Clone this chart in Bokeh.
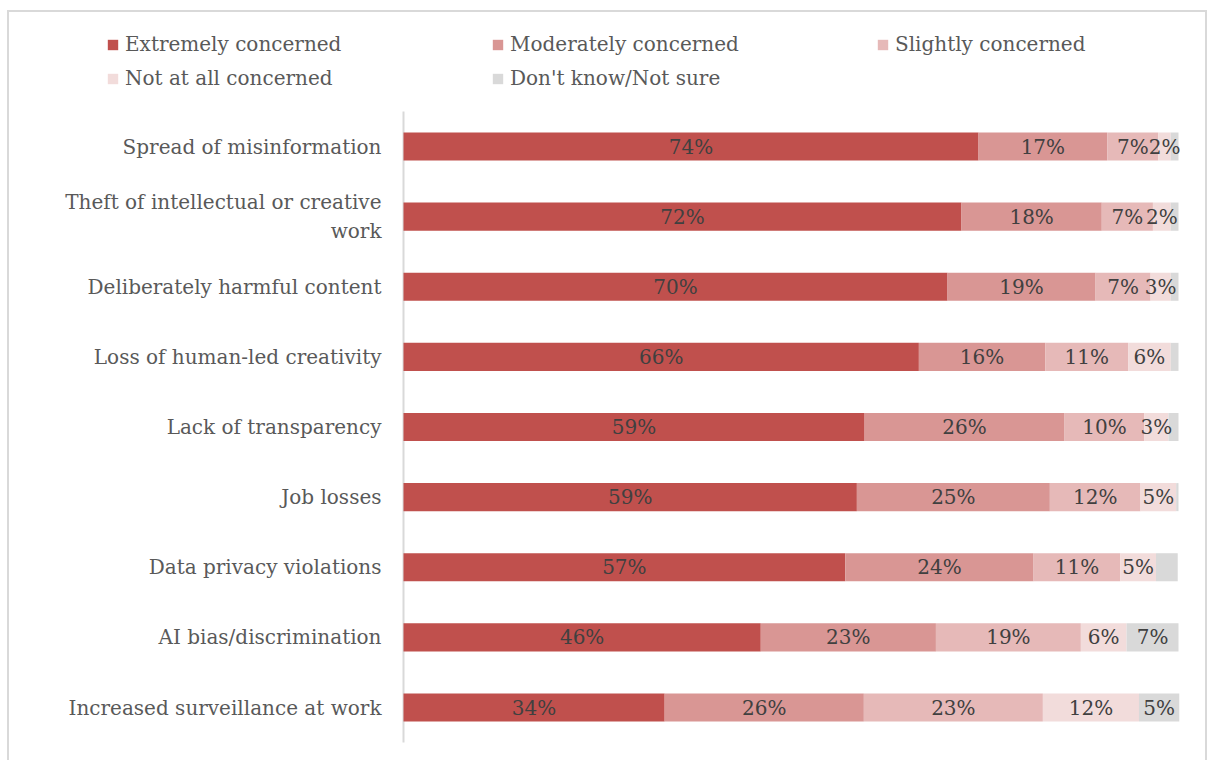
import numpy as np
from bokeh.plotting import figure
from bokeh.layouts import column
from bokeh.models import ColumnDataSource, Range1d, Legend, LegendItem
from bokeh.core.properties import value
from bokeh.embed import file_html
from bokeh.resources import INLINE

# ---------------- data (top to bottom) ----------------
categories = [
    "Spread of misinformation",
    "Theft of intellectual or creative\nwork",
    "Deliberately harmful content",
    "Loss of human-led creativity",
    "Lack of transparency",
    "Job losses",
    "Data privacy violations",
    "AI bias/discrimination",
    "Increased surveillance at work",
]
series_names = ["Extremely concerned", "Moderately concerned", "Slightly concerned",
                "Not at all concerned", "Don't know/Not sure"]

extremely = [74.2, 72.0, 70.2, 66.5, 59.5, 58.5, 57.0, 46.1, 33.7]
moderately = [16.6, 18.1, 19.1, 16.3, 25.8, 24.9, 24.3, 22.6, 25.7]
slightly = [6.6, 6.6, 7.1, 10.7, 10.3, 11.7, 11.2, 18.7, 23.1]
not_at_all = [1.6, 2.3, 2.6, 5.5, 3.1, 4.6, 4.6, 5.9, 12.4]
dont_know = [1.0, 1.0, 1.0, 1.0, 1.3, 0.3, 2.8, 6.7, 5.2]

extremely_labels = ["74%", "72%", "70%", "66%", "59%", "59%", "57%", "46%", "34%"]
moderately_labels = ["17%", "18%", "19%", "16%", "26%", "25%", "24%", "23%", "26%"]
slightly_labels = ["7%", "7%", "7%", "11%", "10%", "12%", "11%", "19%", "23%"]
not_at_all_labels = ["2%", "2%", "3%", "6%", "3%", "5%", "5%", "6%", "12%"]
dont_know_labels = ["", "", "", "", "", "", "", "7%", "5%"]

colors = ["#C0504D", "#D99694", "#E6B9B8", "#F2DCDB", "#D9D9D9"]

series = [extremely, moderately, slightly, not_at_all, dont_know]
labels = [extremely_labels, moderately_labels, slightly_labels, not_at_all_labels, dont_know_labels]

# ---------------- layout (pixels) ----------------
OX, OY = 9, 12             # content origin on the page (inside the border)
CW, CH = 1196, 760 - OY    # content size
AXIS_X = 403               # page x of the 0 % line
ROW_TOP, ROW_BOT = 146, 707  # page y of first and last bar centres
px_per_100 = 775.0

n = len(categories)
ypos = np.arange(n)[::-1].astype(float)       # top row gets the highest value
pitch = (ROW_BOT - ROW_TOP) / (n - 1)
x_start = (OX - AXIS_X) / px_per_100 * 100
x_end = (OX + CW - AXIS_X) / px_per_100 * 100
y_end = (n - 1) + (ROW_TOP - OY) / pitch
y_start = -(OY + CH - ROW_BOT) / pitch

FONT = "DejaVu Serif"
TXT = "#595959"

p = figure(width=CW, height=CH, output_backend="svg", toolbar_location=None,
           x_range=Range1d(x_start, x_end), y_range=Range1d(y_start, y_end),
           min_border=0, min_border_left=0, min_border_right=0,
           min_border_top=0, min_border_bottom=0,
           outline_line_color=None, background_fill_color="white",
           border_fill_color="white")
p.axis.visible = False
p.grid.visible = False

# category axis: line + labels
p.segment(x0=[0], y0=[-0.5], x1=[0], y1=[n - 0.5], line_color="#D9D9D9", line_width=2)
p.text(x=np.zeros(n), y=ypos, text=categories, x_offset=-22, text_align="right",
       text_baseline="middle", text_font=value(FONT), text_font_size="20px",
       text_color=TXT, text_line_height=1.2)

left = np.zeros(n)
sources = []
items = []
for name, vals, labs, col in zip(series_names, series, labels, colors):
    vals = np.array(vals, dtype=float)
    src = ColumnDataSource(dict(y=ypos, left=left.copy(), right=left + vals,
                                mid=left + vals / 2, lab=labs))
    r = p.hbar(y="y", left="left", right="right", height=0.4, source=src,
               fill_color=col, line_color=None)
    items.append(LegendItem(label=name, renderers=[r]))
    sources.append(src)
    left = left + vals

for src in sources:
    p.text(x="mid", y="y", text="lab", source=src, text_align="center",
           text_baseline="middle", text_font=value(FONT), text_font_size="20px",
           text_color="#404040")

leg_h = 24 + 10 + 24
legend = Legend(items=items, orientation="horizontal", ncols=3,
                location=(106 - OX, (OY + CH) - (32 + leg_h)),
                glyph_width=13, glyph_height=13, label_standoff=6,
                label_width=356, label_height=20, spacing=10, padding=0, margin=0,
                label_text_font=FONT, label_text_font_size="20px",
                label_text_color=TXT, border_line_color=None,
                background_fill_alpha=0)
p.add_layout(legend, "center")

layout = column(p, spacing=0, margin=(OY - 2, 0, 0, OX - 2),
                styles={"border-top": "2px solid #D9D9D9",
                        "border-left": "2px solid #D9D9D9",
                        "border-right": "2px solid #D9D9D9"})

open("out.html", "w").write(file_html(layout, INLINE))
